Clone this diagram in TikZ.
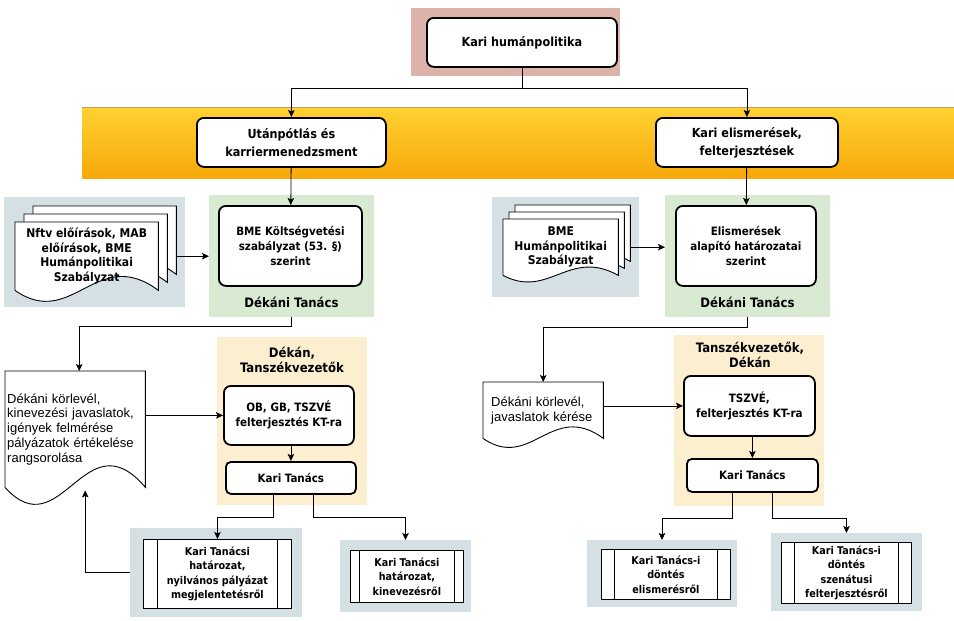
\documentclass[tikz,border=0pt]{standalone}
\usepackage{fontspec}
\setmainfont{DejaVu Sans}
\newfontfamily\condfont{DejaVu Sans Condensed}
\newfontfamily\helvfont{Liberation Sans}
\usetikzlibrary{arrows.meta, calc}
\definecolor{pinkbg}{HTML}{DDB2AA}
\definecolor{greenbg}{HTML}{D9EAD3}
\definecolor{bluebg}{HTML}{D4E0E4}
\definecolor{yellowbg}{HTML}{FCEFD0}
\definecolor{bandtop}{HTML}{FFD232}
\definecolor{bandbot}{HTML}{F7A80A}
\definecolor{bandedge}{HTML}{B9A457}
\pgfdeclarelayer{panels}
\pgfdeclarelayer{pages}
\pgfsetlayers{panels,pages,main}
\tikzset{
  panel/.style={rectangle, anchor=north west, inner sep=0pt, outer sep=0pt},
  pinkpanel/.style={panel, fill=pinkbg},
  greenpanel/.style={panel, fill=greenbg},
  bluepanel/.style={panel, fill=bluebg},
  yellowpanel/.style={panel, fill=yellowbg},
  rbox/.style={rectangle, anchor=north west, rounded corners=7pt, draw=black, line width=1.8pt,
    fill=white, align=center, inner sep=1pt, font=\condfont\bfseries\fontsize{11.5}{15}\selectfont},
  topbox/.style={rbox, font=\condfont\bfseries\fontsize{12.5}{18}\selectfont},
  ktbox/.style={rbox, rounded corners=5pt},
  procbox/.style={rectangle, anchor=north west, draw=black, line width=0.9pt, fill=white,
    align=center, inner sep=0pt, font=\condfont\bfseries\fontsize{10.7}{14.5}\selectfont,
    path picture={
      \draw[line width=0.9pt] ([xshift=#1]path picture bounding box.north west) -- ([xshift=#1]path picture bounding box.south west);
      \draw[line width=0.9pt] ([xshift=-#1]path picture bounding box.north east) -- ([xshift=-#1]path picture bounding box.south east);}},
  procbox/.default=13pt,
  docnode/.style={rectangle, anchor=north west, inner sep=0pt, align=left},
  docline/.style={draw=black, line width=0.9pt, fill=white},
  doctext/.style={docnode, align=center, font=\condfont\bfseries\fontsize{12}{14.5}\selectfont},
  paneltitle/.style={font=\condfont\bfseries\fontsize{13}{15.5}\selectfont, align=center},
  conn/.style={draw=black, line width=0.8pt},
  arrow/.style={conn, -{Stealth[length=7pt, width=6.5pt, inset=1.5pt]}},
}
% document page with wavy lower edge, drawn from a node's anchors
\newcommand{\docpage}[2]{%
  \path[docline] (#1.south west)
    .. controls ($(#1.south west)!0.4!(#1.south east)+(0,#2)$)
    and ($(#1.south west)!0.57!(#1.south east)+(0,-1.15*#2)$) .. (#1.south east)
    -- (#1.north east) -- (#1.north west) -- cycle;}

\begin{document}
\begin{tikzpicture}[x=1pt, y=-1pt]
\useasboundingbox (0,0) rectangle (954,621);

% backgrounds
\begin{pgfonlayer}{panels}
\fill[top color=bandtop, bottom color=bandbot] (82,107) rectangle (954,178);
\draw[bandedge, line width=1pt] (82,107.5) -- (954,107.5);
\node[pinkpanel, minimum width=209pt, minimum height=68pt] (khp) at (411,8) {};
\node[bluepanel, minimum width=181pt, minimum height=110pt] (bpL) at (4,197) {};
\node[greenpanel, minimum width=165pt, minimum height=122pt] (dtL) at (209,195) {};
\node[bluepanel, minimum width=147pt, minimum height=100pt] (bpR) at (492,197) {};
\node[greenpanel, minimum width=165pt, minimum height=122pt] (dtR) at (665,195) {};
\node[yellowpanel, minimum width=150pt, minimum height=168pt] (yeL) at (217,337) {};
\node[yellowpanel, minimum width=150pt, minimum height=171pt] (yeR) at (674,335) {};
\node[bluepanel, minimum width=172pt, minimum height=89pt] (hat1p) at (130,528) {};
\node[bluepanel, minimum width=131pt, minimum height=72pt] (hat2p) at (340,540) {};
\node[bluepanel, minimum width=150pt, minimum height=67pt] (dont1p) at (587,540) {};
\node[bluepanel, minimum width=151pt, minimum height=78pt] (dont2p) at (771,533) {};
\end{pgfonlayer}

% top level
\node[topbox, minimum width=190pt, minimum height=49pt] (kh) at (426,17) {Kari humánpolitika};
\node[topbox, minimum width=189pt, minimum height=49pt] (utan) at (196,117) {Utánpótlás és\\karriermenedzsment};
\node[topbox, minimum width=182pt, minimum height=49pt] (elism) at (655,117) {Kari elismerések,\\felterjesztések};

% left branch
\node[docnode, minimum width=143pt, minimum height=68pt] (nftvc) at (33,206) {};
\node[docnode, minimum width=143pt, minimum height=68pt] (nftvb) at (24,214) {};
\node[doctext, minimum width=143pt, minimum height=68pt] (nftv) at (15,222) {Nftv előírások, MAB\\előírások, BME\\Humánpolitikai\\Szabályzat};
\node[rbox, minimum width=143pt, minimum height=80pt] (ktsg) at (218,205) {BME Költségvetési\\szabályzat (53. §)\\szerint};
\node[paneltitle] (dtLlab) at (291.5,302) {Dékáni Tanács};
\node[docnode, text width=136pt, minimum width=140pt, minimum height=116pt,
  font=\helvfont\fontsize{13}{14.8}\selectfont] (dok1) at (5,371)
  {Dékáni körlevél,\\kinevezési javaslatok,\\igények felmérése\\pályázatok értékelése\\rangsorolása};
\node[paneltitle] (yeLlab) at (292,360) {Dékán,\\Tanszékvezetők};
\node[rbox, minimum width=130pt, minimum height=59pt] (ob) at (223,385) {OB, GB, TSZVÉ\\felterjesztés KT-ra};
\node[ktbox, minimum width=130pt, minimum height=32pt] (ktL) at (225,461) {Kari Tanács};
\node[procbox=14pt, minimum width=148pt, minimum height=69pt] (hat1) at (143,539) {Kari Tanácsi\\határozat,\\nyilvános pályázat\\megjelentetésről};
\node[procbox=9pt, minimum width=113pt, minimum height=52pt] (hat2) at (350,550) {Kari Tanácsi\\határozat,\\kinevezésről};

% right branch
\node[docnode, minimum width=115pt, minimum height=56pt] (bhszc) at (515,205) {};
\node[docnode, minimum width=115pt, minimum height=56pt] (bhszb) at (509,212) {};
\node[doctext, minimum width=115pt, minimum height=56pt] (bhsz) at (503,219) {BME\\Humánpolitikai\\Szabályzat};
\node[rbox, minimum width=140pt, minimum height=80pt] (elis2) at (675,205) {Elismerések\\alapító határozatai\\szerint};
\node[paneltitle] (dtRlab) at (747.5,302) {Dékáni Tanács};
\node[docnode, text width=104pt, minimum width=120pt, minimum height=56pt,
  font=\helvfont\fontsize{13}{14.8}\selectfont] (dok2) at (483,382)
  {Dékáni körlevél,\\javaslatok kérése};
\node[paneltitle] (yeRlab) at (750,355) {Tanszékvezetők,\\Dékán};
\node[rbox, minimum width=131pt, minimum height=60pt] (tsz) at (683,375) {TSZVÉ,\\felterjesztés KT-ra};
\node[ktbox, minimum width=131pt, minimum height=33pt] (ktR) at (686,458) {Kari Tanács};
\node[procbox, minimum width=129pt, minimum height=50pt] (dont1) at (601,549) {Kari Tanács-i\\döntés\\elismerésről};
\node[procbox, minimum width=130pt, minimum height=61pt] (dont2) at (781,542) {Kari Tanács-i\\döntés\\szenátusi\\felterjesztésről};

% document outlines
\begin{pgfonlayer}{pages}
\docpage{nftvc}{40}
\docpage{nftvb}{40}
\docpage{nftv}{40}
\docpage{bhszc}{24}
\docpage{bhszb}{24}
\docpage{bhsz}{24}
\docpage{dok1}{62}
\docpage{dok2}{33}
\end{pgfonlayer}

% connectors
\coordinate (split) at ($(kh.south)+(0,21)$);
\draw[conn] (kh) -- (split);
\draw[arrow] (split) -| (utan);
\draw[arrow] (split) -| (elism);
\draw[arrow] (utan) -- (ktsg);
\draw[arrow] (elism) -- (elis2);
\draw[arrow] (nftvc.east |- nftv.east) -- (dtL.west |- nftv.east);
\draw[arrow] (bhszc.east |- bhsz.east) -- (dtR.west |- bhsz.east);
\draw[arrow] (dtL.south) -- ++(0,9) -| ([xshift=4pt]dok1.north);
\draw[arrow] (dtR.south) -- ++(0,10) -| (dok2.north);
\draw[arrow] (dok1.east |- ob.west) -- (ob.west);
\draw[arrow] (dok2.east |- tsz.west) -- (tsz.west);
\draw[arrow] (ob.south -| ktL.north) -- (ktL.north);
\draw[arrow] (tsz.south -| ktR.north) -- (ktR.north);
\draw[arrow] ([xshift=-18pt]ktL.south) -- ++(0,23) -| (hat1.north);
\draw[arrow] ([xshift=22pt]ktL.south) -- ++(0,23) -| (hat2p.north);
\draw[arrow] ([xshift=-20pt]ktR.south) -- ++(0,26) -| (dont1p.north);
\draw[arrow] ([xshift=20pt]ktR.south) -- ++(0,26) -| (dont2p.north);
\draw[arrow] (hat1p.west) -| ([xshift=10pt, yshift=-3pt]dok1.south);
\end{tikzpicture}
\end{document}
